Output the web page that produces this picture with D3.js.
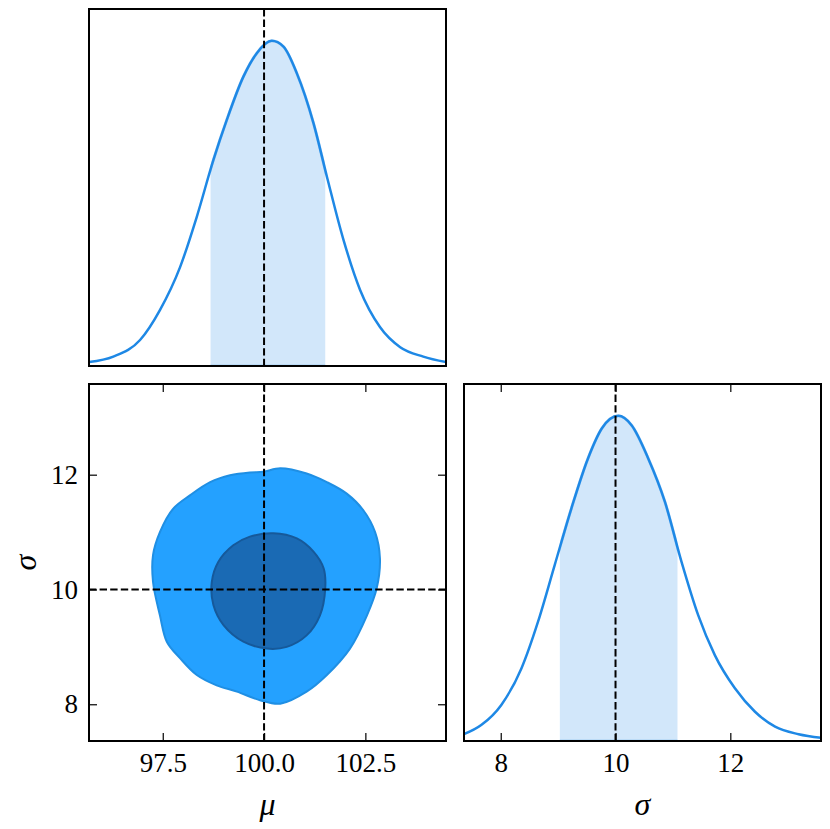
<!DOCTYPE html>
<meta charset="utf-8">
<style>
  body { margin: 0; background: #fff; }
  svg text { font-family: "Liberation Serif", "Times New Roman", "DejaVu Serif", serif; }
</style>
<body>
<script src="https://d3js.org/d3.v7.min.js"></script>
<script>

var width = 830,
    height = 829;

// marginal of mu (relative density, peak = 1)
var muGrid = [95.68, 96.28, 96.94, 97.43, 97.93, 98.34, 98.75, 99.08, 99.49, 99.82, 100.19,
              100.48, 100.81, 101.22, 101.55, 101.96, 102.37, 102.86, 103.36, 103.93, 104.49];
var muDensity = [0.012, 0.029, 0.080, 0.172, 0.305, 0.459, 0.634, 0.757, 0.890, 0.962, 1.0,
                 0.982, 0.900, 0.747, 0.583, 0.388, 0.234, 0.120, 0.058, 0.029, 0.012];
var muShade = [98.68, 101.51];

// marginal of sigma
var sigmaGrid = [7.36, 7.66, 8.01, 8.36, 8.65, 8.94, 9.23, 9.52, 9.76, 10.05, 10.28,
                 10.57, 10.86, 11.15, 11.44, 11.73, 12.08, 12.43, 12.78, 13.19, 13.58];
var sigmaDensity = [0.021, 0.049, 0.111, 0.223, 0.367, 0.541, 0.715, 0.869, 0.961, 1.0, 0.971,
                    0.869, 0.736, 0.551, 0.387, 0.264, 0.162, 0.090, 0.044, 0.021, 0.010];
var sigmaShade = [9.03, 11.08];

// 2D contours [mu, sigma]
var outerContour = [[99.98, 12.05], [100.40, 12.11], [101.05, 12.02], [101.55, 11.87], [102.04, 11.67],
  [102.45, 11.38], [102.74, 11.00], [102.86, 10.54], [102.78, 10.02], [102.54, 9.55], [102.12, 8.97],
  [101.55, 8.51], [101.05, 8.22], [100.40, 8.01], [99.90, 8.07], [99.33, 8.22], [98.83, 8.33],
  [98.34, 8.51], [97.93, 8.80], [97.60, 9.09], [97.43, 9.55], [97.26, 10.13], [97.26, 10.60],
  [97.43, 11.00], [97.76, 11.41], [98.17, 11.64], [98.67, 11.87], [99.16, 11.99], [99.65, 12.04]];
var innerContour = [[100.23, 10.98], [100.81, 10.89], [101.22, 10.66], [101.47, 10.37], [101.51, 10.02],
  [101.38, 9.55], [101.05, 9.20], [100.56, 9.00], [100.07, 8.97], [99.49, 9.09], [99.00, 9.38],
  [98.75, 9.73], [98.71, 10.13], [98.87, 10.48], [99.24, 10.77], [99.65, 10.92]];

var truth = {mu: 100, sigma: 10};
var muTicks = [97.5, 100.0, 102.5];
var sigmaTicks = [8, 10, 12];

var lineColor = "#1E88E5";
var serif = "'Liberation Serif', 'Times New Roman', 'DejaVu Serif', serif";

var svg = d3.select("body").append("svg")
    .attr("width", width)
    .attr("height", height);

// panels
var L = 89, R = 446, L2 = 464, R2 = 821;
var T1 = 9, B1 = 366, T2 = 384, B2 = 741;

var xMu = d3.scaleLinear().domain([95.68, 104.49]).range([L, R]);
var ySig = d3.scaleLinear().domain([7.36, 13.58]).range([B2, T2]);
var xSig = d3.scaleLinear().domain([7.36, 13.58]).range([L2, R2]);
var yMuD = d3.scaleLinear().domain([0, 1.098]).range([B1, T1]);
var ySigD = d3.scaleLinear().domain([0, 1.098]).range([B2, T2]);

var defs = svg.append("defs");
function clipRect(id, x0, x1, y0, y1) {
  defs.append("clipPath").attr("id", id).append("rect")
    .attr("x", x0).attr("y", y0).attr("width", x1 - x0).attr("height", y1 - y0);
}
clipRect("c1", L, R, T1, B1);
clipRect("c2", L, R, T2, B2);
clipRect("c3", L2, R2, T2, B2);
clipRect("s1", xMu(muShade[0]), xMu(muShade[1]), T1, B1);
clipRect("s3", xSig(sigmaShade[0]), xSig(sigmaShade[1]), T2, B2);

function marginal(grid, dens, xs, ys, clip, shadeClip) {
  var pts = grid.map(function(g, i) { return [g, dens[i]]; });
  var g = svg.append("g").attr("clip-path", "url(#" + clip + ")");
  var area = d3.area().curve(d3.curveMonotoneX)
      .x(function(d) { return xs(d[0]); })
      .y0(ys(0))
      .y1(function(d) { return ys(d[1]); });
  g.append("path")
      .attr("clip-path", "url(#" + shadeClip + ")")
      .attr("d", area(pts))
      .attr("fill", "rgba(30,136,229,0.2)")
      .attr("stroke", "rgba(30,136,229,0.25)")
      .attr("stroke-width", 3);
  var line = d3.line().curve(d3.curveMonotoneX)
      .x(function(d) { return xs(d[0]); })
      .y(function(d) { return ys(d[1]); });
  g.append("path")
      .attr("d", line(pts))
      .attr("fill", "none")
      .attr("stroke", lineColor)
      .attr("stroke-width", 2.5);
  return g;
}

var g1 = marginal(muGrid, muDensity, xMu, yMuD, "c1", "s1");
var g3 = marginal(sigmaGrid, sigmaDensity, xSig, ySigD, "c3", "s3");

// contours
var g2 = svg.append("g").attr("clip-path", "url(#c2)");
var contour = d3.line().curve(d3.curveCatmullRomClosed.alpha(0.5))
    .x(function(d) { return xMu(d[0]); })
    .y(function(d) { return ySig(d[1]); });
g2.append("path").attr("d", contour(outerContour))
    .attr("fill", "#24A1FF").attr("stroke", "#1F8FE4").attr("stroke-width", 2);
g2.append("path").attr("d", contour(innerContour))
    .attr("fill", "#1A6AB4").attr("stroke", "#16599A").attr("stroke-width", 2);

// truth lines
function dash(g, x1, y1, x2, y2) {
  g.append("line").attr("x1", x1).attr("y1", y1).attr("x2", x2).attr("y2", y2)
    .attr("stroke", "#000").attr("stroke-width", 2).attr("stroke-dasharray", "7.4,3.2");
}
dash(g1, xMu(truth.mu), T1, xMu(truth.mu), B1);
dash(g2, xMu(truth.mu), T2, xMu(truth.mu), B2);
dash(g2, L, ySig(truth.sigma), R, ySig(truth.sigma));
dash(g3, xSig(truth.sigma), T2, xSig(truth.sigma), B2);

// axes (ticks point inward)
function axis(gen, tx, ty, labels) {
  var a = svg.append("g").attr("transform", "translate(" + tx + "," + ty + ")")
    .call(gen.tickSizeOuter(0));
  a.attr("font-family", serif).attr("font-size", 27);
  a.select(".domain").remove();
  a.selectAll(".tick line").attr("stroke", "#000").attr("stroke-width", 1.2);
  a.selectAll("text").attr("fill", "#000").style("font-family", serif);
  if (!labels) a.selectAll("text").remove();
  return a;
}
var fmtMu = d3.format(".1f"), fmtSig = d3.format("d");
axis(d3.axisBottom(xMu).tickValues(muTicks).tickFormat(fmtMu).tickSize(-8).tickPadding(12), 0, B2, true);
axis(d3.axisTop(xMu).tickValues(muTicks).tickSize(-8), 0, T2, false);
axis(d3.axisLeft(ySig).tickValues(sigmaTicks).tickFormat(fmtSig).tickSize(-8).tickPadding(11), L, 0, true);
axis(d3.axisRight(ySig).tickValues(sigmaTicks).tickSize(-8), R, 0, false);
axis(d3.axisBottom(xSig).tickValues(sigmaTicks).tickFormat(fmtSig).tickSize(-8).tickPadding(12), 0, B2, true);
axis(d3.axisTop(xSig).tickValues(sigmaTicks).tickSize(-8), 0, T2, false);

// frames
[[L, R, T1, B1], [L, R, T2, B2], [L2, R2, T2, B2]].forEach(function(p) {
  svg.append("rect").attr("x", p[0]).attr("y", p[2])
    .attr("width", p[1] - p[0]).attr("height", p[3] - p[2])
    .attr("fill", "none").attr("stroke", "#000").attr("stroke-width", 2);
});

// axis labels
function label(x, y, t, rot) {
  svg.append("text")
    .attr("transform", "translate(" + x + "," + y + ")" + (rot ? " rotate(-90)" : ""))
    .attr("text-anchor", "middle").attr("font-size", 32).attr("font-style", "italic")
    .style("font-family", serif)
    .text(t);
}
label((L + R) / 2, 815, "μ", false);
label((L2 + R2) / 2, 815, "σ", false);
label(36, (T2 + B2) / 2, "σ", true);

</script>
